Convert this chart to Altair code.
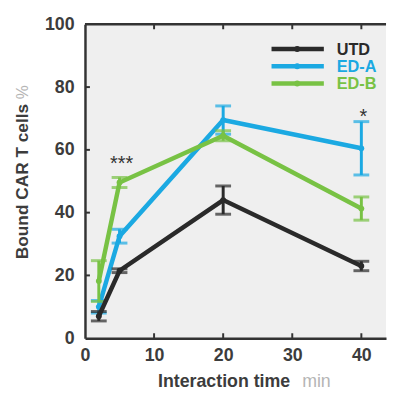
import altair as alt
import pandas as pd

times = [2, 5, 20, 40]
series = ["UTD", "ED-A", "ED-B"]
utd_mean = [7, 21.5, 44, 23]
utd_err = [1.5, 0.6, 4.5, 1.5]
eda_mean = [10, 32.5, 69.5, 60.5]
eda_err = [2, 2.2, 4.5, 8.5]
edb_mean = [18.2, 49.6, 64.5, 41.3]
edb_err = [6.5, 1.6, 1.6, 3.7]
colors = ["#2a2a2a", "#1ba9e2", "#78c244"]
x_ticks = [10, 20, 30, 40]
y_ticks = [20, 40, 60, 80]
annot_text = ["***", "*"]
annot_x = [5.3, 40.3]
annot_y = [57, 72]

W, H = 305, 318
FONT = "Liberation Sans"
DARK = "#333333"

xs = alt.Scale(domain=[0, W / 7], nice=False, zero=False)
ys = alt.Scale(domain=[0, 100], nice=False)
xaxis = alt.Axis(values=[0, 10, 20, 30, 40], ticks=False, grid=False, title=None,
                 domainColor=DARK, domainWidth=2.5, labelFont=FONT, labelFontWeight="bold",
                 labelFontSize=18, labelColor="#3c3c3c", labelPadding=9, labelFlush=False)
yaxis = alt.Axis(values=[0, 20, 40, 60, 80, 100], ticks=False, grid=False, title=None,
                 domainColor=DARK, domainWidth=2.5, labelFont=FONT, labelFontWeight="bold",
                 labelFontSize=18, labelColor="#3c3c3c", labelPadding=11, labelFlush=False)
X = alt.X("x:Q", scale=xs, axis=xaxis)
Y = alt.Y("y:Q", scale=ys, axis=yaxis)

means = [utd_mean, eda_mean, edb_mean]
errs = [utd_err, eda_err, edb_err]

layers = []
# frame: top border
top = alt.Chart(pd.DataFrame({"y": [100]})).mark_rule(color=DARK, strokeWidth=2.5).encode(y=Y)
layers.append(top)

# inward ticks
xt = pd.DataFrame({"x": x_ticks})
yt = pd.DataFrame({"y": y_ticks})
layers.append(alt.Chart(xt).mark_rule(color=DARK, strokeWidth=2).encode(x=X, y=alt.value(H), y2=alt.value(H - 5)))
layers.append(alt.Chart(xt).mark_rule(color=DARK, strokeWidth=2).encode(x=X, y=alt.value(0), y2=alt.value(5)))
layers.append(alt.Chart(yt).mark_rule(color=DARK, strokeWidth=2).encode(y=Y, x=alt.value(0), x2=alt.value(5)))

order = [1, 2, 0]
for i in order:
    df = pd.DataFrame({"x": times, "y": means[i],
                       "lo": [m - e for m, e in zip(means[i], errs[i])],
                       "hi": [m + e for m, e in zip(means[i], errs[i])]})
    c = colors[i]
    base = alt.Chart(df)
    layers.append(base.mark_line(color=c, strokeWidth=4.5).encode(x=X, y=Y))
    layers.append(base.mark_point(color=c, filled=True, size=35, opacity=1).encode(x=X, y=Y))
    layers.append(base.mark_rule(color=c, strokeWidth=3).encode(
        x=X, y=alt.Y("lo:Q", scale=ys, axis=yaxis), y2="hi:Q"))
    layers.append(base.mark_tick(color=c, orient="horizontal", size=16, thickness=3).encode(
        x=X, y=alt.Y("lo:Q", scale=ys, axis=yaxis)))
    layers.append(base.mark_tick(color=c, orient="horizontal", size=16, thickness=3).encode(
        x=X, y=alt.Y("hi:Q", scale=ys, axis=yaxis)))

# significance annotations
adf = pd.DataFrame({"x": annot_x, "y": annot_y, "t": annot_text})
layers.append(alt.Chart(adf).mark_text(font=FONT, fontSize=20, color="#333333", baseline="middle", dy=5).encode(
    x=X, y=Y, text="t:N"))

# legend
for k, i in enumerate([0, 1, 2]):
    yy = 25 + 17.5 * k
    ldf = pd.DataFrame({"t": [series[i]]})
    lb = alt.Chart(ldf)
    layers.append(lb.mark_rule(color=colors[i], strokeWidth=4.5).encode(
        x=alt.value(189), x2=alt.value(242), y=alt.value(yy)))
    layers.append(lb.mark_point(color=colors[i], filled=True, size=35, opacity=1).encode(
        x=alt.value(215), y=alt.value(yy)))
    layers.append(lb.mark_text(color=colors[i], font=FONT, fontWeight="bold", fontSize=16.5,
                               align="left", baseline="middle").encode(
        x=alt.value(255), y=alt.value(yy + 1), text="t:N"))

# axis titles
tdf = pd.DataFrame({"t": ["Interaction time"]})
layers.append(alt.Chart(tdf).mark_text(font=FONT, fontWeight="bold", fontSize=18, color="#3c3c3c",
                                       align="left", baseline="middle").encode(
    x=alt.value(74), y=alt.value(362), text="t:N"))
layers.append(alt.Chart(pd.DataFrame({"t": ["min"]})).mark_text(font=FONT, fontSize=18, color="#b5b5b5",
                                                                 align="left", baseline="middle").encode(
    x=alt.value(220), y=alt.value(362), text="t:N"))
layers.append(alt.Chart(pd.DataFrame({"t": ["Bound CAR T cells"]})).mark_text(
    font=FONT, fontWeight="bold", fontSize=17.5, color="#3c3c3c", align="left", baseline="middle",
    angle=270).encode(x=alt.value(-63), y=alt.value(238), text="t:N"))
layers.append(alt.Chart(pd.DataFrame({"t": ["%"]})).mark_text(
    font=FONT, fontSize=16, color="#b5b5b5", align="left", baseline="middle",
    angle=270).encode(x=alt.value(-63), y=alt.value(76), text="t:N"))

chart = alt.layer(*layers).properties(
    width=W, height=H, padding={"left": 5, "top": 5, "right": 0, "bottom": 0}, background="white"
).configure_view(fill="#efefef", stroke=None)

chart.save("out.html", embed_options={"renderer": "svg", "actions": False})
